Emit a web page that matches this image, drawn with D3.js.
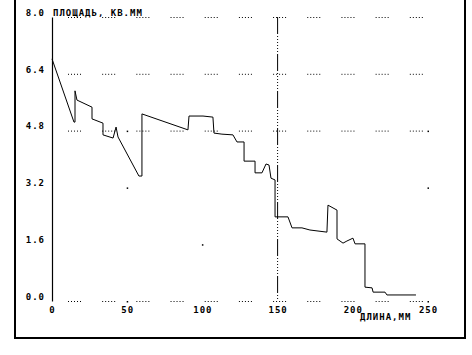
<!DOCTYPE html>
<html>
<head>
<meta charset="utf-8">
<script src="https://cdn.jsdelivr.net/npm/d3@7"></script>
<style>
body { margin: 0; background: #fff; }
text { font-family: "DejaVu Sans Mono", monospace; font-weight: bold; font-size: 9px; letter-spacing: 1px; fill: #000; }
</style>
</head>
<body>
<div id="chart"></div>
<script>
// length along the part, mm
var lengthMm = [0, 14.6, 15.3, 15.3, 16.6, 26.6, 26.6, 33.9, 33.9, 40.6, 42.6, 43.9, 57.8, 59.8, 59.8,
    90.4, 91.1, 100.4, 107.0, 107.7, 113.0, 120.3, 123.0, 127.7, 127.7, 135.0, 135.0, 139.6, 142.3,
    144.3, 145.6, 148.3, 148.3, 156.9, 159.6, 166.2, 171.5, 182.8, 183.5, 189.5, 189.5, 193.5, 196.1,
    200.1, 201.5, 208.1, 208.1, 212.8, 213.5, 221.4, 222.7, 242.0];
// cross-section area, sq mm
var areaMm2 = [6.82, 5.04, 5.04, 5.92, 5.66, 5.46, 5.13, 5.01, 4.68, 4.59, 4.90, 4.62, 3.52, 3.52, 5.27,
    4.82, 5.21, 5.21, 5.18, 4.73, 4.70, 4.68, 4.48, 4.48, 3.94, 3.94, 3.61, 3.61, 3.86,
    3.83, 3.46, 3.41, 2.37, 2.37, 2.06, 2.06, 2.00, 1.94, 2.70, 2.56, 1.75, 1.63, 1.69,
    1.77, 1.61, 1.61, 0.39, 0.37, 0.25, 0.25, 0.17, 0.17];

var xTicks = [0, 50, 100, 150, 200, 250];
var yTicks = [0, 1.6, 3.2, 4.8, 6.4, 8.0];
var gridRows = [0, 4.8, 6.4, 8.0];
var dotX = [50, 250, 50, 250, 100, 50, 250];
var dotY = [4.8, 4.8, 3.2, 3.2, 1.6, 0, 0];
var markerAt = 150;

var w = 472, h = 355;

var svg = d3.select("#chart").append("svg")
    .attr("width", w)
    .attr("height", h);

var x = d3.scaleLinear().domain([0, 250]).range([52, 428]);
var y = d3.scaleLinear().domain([0, 8]).range([301, 17]);

// frame
svg.append("rect")
    .attr("x", 15).attr("y", -5)
    .attr("width", 450).attr("height", 343)
    .attr("fill", "none")
    .attr("stroke", "#000")
    .attr("stroke-width", 2);

// dotted grid, drawn as short dotted runs
var segStep = (x(250) - x(0)) / 11;
gridRows.forEach(function(v) {
    for (var k = 0; k < 11; k++) {
        var x0 = x(0) + 16 + k * segStep;
        svg.append("line")
            .attr("x1", x0).attr("x2", x0 + 14)
            .attr("y1", y(v) + 0.5).attr("y2", y(v) + 0.5)
            .attr("stroke", "#000")
            .attr("stroke-dasharray", "1,2");
    }
});

svg.selectAll("rect.dot")
    .data(dotX)
    .enter()
    .append("rect")
    .attr("class", "dot")
    .attr("x", function(d) { return x(d) - 0.5; })
    .attr("y", function(d, i) { return y(dotY[i]); })
    .attr("width", 1.5).attr("height", 1.5)
    .attr("fill", "#000");

// y axis line
var yAxis = d3.axisLeft(y).tickValues(yTicks).tickSize(0).tickFormat(d3.format(".1f"));
var gy = svg.append("g")
    .attr("transform", "translate(" + x(0) + ",0)")
    .call(yAxis);
gy.select(".domain").attr("stroke", "#000").attr("stroke-width", 1.2);
gy.selectAll("text")
    .attr("x", -7)
    .attr("dy", "-0.2em");
gy.attr("font-family", null).attr("font-size", null);

// x axis labels only
var xAxis = d3.axisBottom(x).tickValues(xTicks).tickSize(0);
var gx = svg.append("g")
    .attr("transform", "translate(0," + y(0) + ")")
    .call(xAxis);
gx.select(".domain").remove();
gx.selectAll("text").attr("y", 6);
gx.attr("font-family", null).attr("font-size", null);

// marker at 150 mm
svg.append("line")
    .attr("x1", x(markerAt)).attr("x2", x(markerAt))
    .attr("y1", y(8)).attr("y2", y(0))
    .attr("stroke", "#000")
    .attr("stroke-width", 1)
    .attr("stroke-dasharray", "17,2,1,2,1,2,1,2,1,2,1,2,1,2");

// area curve
var line = d3.line()
    .x(function(d, i) { return x(lengthMm[i]); })
    .y(function(d) { return y(d); });

svg.append("path")
    .datum(areaMm2)
    .attr("d", line)
    .attr("fill", "none")
    .attr("stroke", "#000")
    .attr("stroke-width", 1);

// titles
svg.append("text")
    .attr("x", x(0) + 1)
    .attr("y", 16)
    .text("ПЛОЩАДЬ, КВ.ММ");

svg.append("text")
    .attr("x", 360)
    .attr("y", 320)
    .text("ДЛИНА,ММ");
</script>
</body>
</html>
